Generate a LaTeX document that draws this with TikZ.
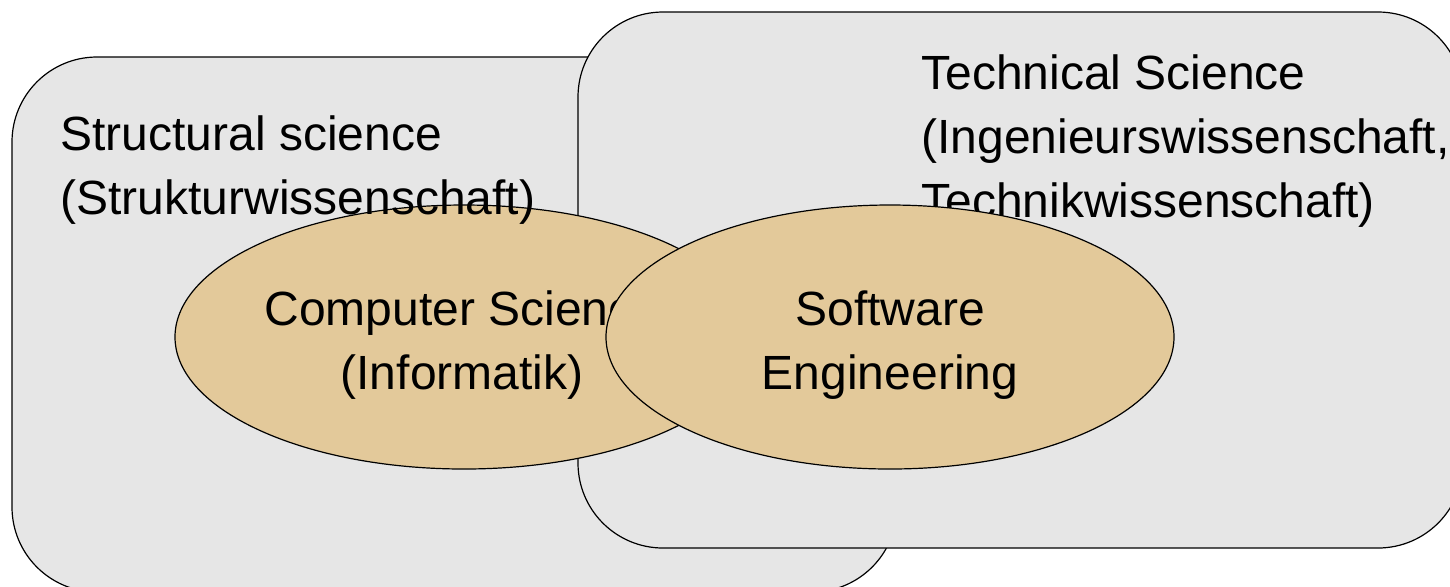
\documentclass[tikz,border=0pt]{standalone}
\usepackage{fontspec}
\setmainfont{Liberation Sans}
\usetikzlibrary{shapes.geometric}
\definecolor{boxgray}{HTML}{E6E6E6}
\definecolor{blobtan}{HTML}{E3C99A}
\begin{document}
\begin{tikzpicture}[x=0.5pt,y=-0.5pt,
  field/.style={draw=black,line width=0.6pt,fill=boxgray,rounded corners=42.5pt},
  blob/.style={ellipse,draw=black,line width=0.6pt,fill=blobtan,inner sep=0pt},
  txt/.style={inner sep=0pt,font=\fontsize{24}{32}\selectfont}]
\useasboundingbox (0,0) rectangle (1450,586);
\clip (0,0) rectangle (1450,586);
% fields
\draw[field] (12,57) rectangle (897,592);
\draw[field] (578,12) rectangle (1463,548);
\node (techtxt) [txt,anchor=north west,align=left] at (921,54)
  {Technical Science\\(Ingenieurswissenschaft,\\Technikwissenschaft)};
% Computer science ellipse
\node (cs) [blob,minimum width=289pt,minimum height=132pt] at (464,337) {};
\node (structtxt) [txt,anchor=north west,align=left] at (60,115)
  {Structural science\\(Strukturwissenschaft)};
\node (cstxt) [txt,anchor=north,align=center] at (462,290)
  {Computer Science\\(Informatik)};
% Software engineering ellipse
\node (se) [blob,minimum width=284pt,minimum height=132pt] at (890,337) {};
\node (setxt) [txt,anchor=north,align=center] at (890,290)
  {Software\\Engineering};
\end{tikzpicture}
\end{document}
